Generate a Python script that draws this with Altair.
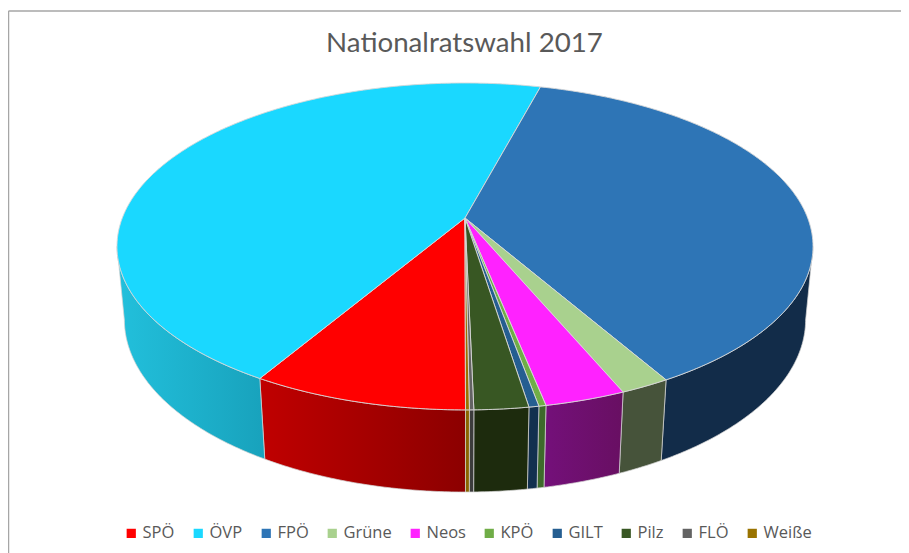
import math
import altair as alt
import pandas as pd

parties = ["SPÖ", "ÖVP", "FPÖ", "Grüne", "Neos", "KPÖ", "GILT", "Pilz", "FLÖ", "Weiße"]
shares = [8.52, 45.64, 37.56, 1.97, 3.19, 0.28, 0.39, 2.13, 0.17, 0.15]
top_colors = ["#ff0000", "#1ad8ff", "#2e75b6", "#a9d18e", "#ff22ff", "#70ad47", "#255e91", "#385723", "#636363", "#997300"]
wall_left = ["#c00000", "#22c0dc", "#122c49", "#46533a", "#74107a", "#3d6a2a", "#12304f", "#1d2b0d", "#3c3c3c", "#8a6500"]
wall_right = ["#8c0000", "#18a2bc", "#122c49", "#46533a", "#680f62", "#3d6a2a", "#12304f", "#1d2b0d", "#3c3c3c", "#8a6500"]

# projection of the tilted disc (picture geometry)
CX, CY = 465.0, 218.0
A, B, K = 342.7, 158.5, -0.174
G, H = 0.021, 73.6
START = -0.07
LIMIT = 80.0


def project(theta, depth):
    t = math.radians(theta)
    u, v = -math.sin(t), math.cos(t)
    w = 1 + K * v + (G if depth else 0)
    return CX + A * u / w, CY + (B * v + (H if depth else 0)) / w


def arc(t0, t1):
    n = max(2, int(abs(t1 - t0) / 0.5) + 1)
    return [t0 + (t1 - t0) * i / (n - 1) for i in range(n)]


top_rows, wall_rows = [], []
theta = START
for party, share in zip(parties, shares):
    t0 = theta
    t1 = theta + share * 3.6
    theta = t1
    pts = [(CX, CY)] + [project(t, 0) for t in arc(t0, t1)] + [(CX, CY)]
    for i, (x, y) in enumerate(pts):
        top_rows.append({"party": party, "i": i, "x": x, "y": y})
    # the part of the side wall that faces the viewer
    spans = []
    for a, b in [(t0, t1), (t0 - 360, t1 - 360)]:
        lo, hi = max(a, -LIMIT), min(b, LIMIT)
        if hi > lo:
            spans.append((lo, hi))
    for lo, hi in spans:
        ts = arc(lo, hi)
        poly = [project(t, 0) for t in ts] + [project(t, 1) for t in reversed(ts)]
        poly.append(poly[0])
        for i, (x, y) in enumerate(poly):
            wall_rows.append({"party": party, "i": i, "x": x, "y": y})

top_df = pd.DataFrame(top_rows)
wall_df = pd.DataFrame(wall_rows)

W, H_ = 893, 545
xs = alt.Scale(domain=[8, 901], range=[0, W], nice=False, zero=False)
ys = alt.Scale(domain=[8, 553], range=[0, H_], nice=False, zero=False)
X = alt.X("x:Q", scale=xs, axis=None)
Y = alt.Y("y:Q", scale=ys, axis=None)

layers = []
for p, cl, cr in zip(parties, wall_left, wall_right):
    grad = alt.Gradient(
        gradient="linear", x1=0, x2=1, y1=0, y2=0,
        stops=[alt.GradientStop(color=cl, offset=0), alt.GradientStop(color=cr, offset=1)],
    )
    layers.append(
        alt.Chart(wall_df[wall_df.party == p])
        .mark_line(fill=grad, stroke="#d4d4d4", strokeWidth=0.9, strokeOpacity=0.8)
        .encode(x=X, y=Y, order="i:Q")
    )

top = (
    alt.Chart(top_df)
    .mark_line(stroke="#d8d8d8", strokeWidth=0.9, strokeJoin="round", filled=True)
    .encode(
        x=X,
        y=Y,
        order="i:Q",
        fill=alt.Fill(
            "party:N",
            scale=alt.Scale(domain=parties, range=top_colors),
            sort=parties,
            legend=alt.Legend(
                title=None,
                orient="none",
                legendX=115,
                legendY=517,
                direction="horizontal",
                columns=10,
                columnPadding=15,
                symbolType="square",
                symbolSize=85,
                symbolStrokeWidth=0,
                labelFont="Open Sans",
                labelFontSize=16.5,
                labelColor="#595959",
                labelOffset=3,
            ),
        ),
    )
)
layers.append(top)

frame_top = alt.Chart(pd.DataFrame({"a": [0]})).mark_rule(color="#a6a6a6", strokeWidth=1.5).encode(
    x=alt.value(0.5), x2=alt.value(W), y=alt.value(3))
frame_left = alt.Chart(pd.DataFrame({"a": [0]})).mark_rule(color="#a6a6a6", strokeWidth=1.5).encode(
    x=alt.value(0.5), y=alt.value(3), y2=alt.value(H_))

chart = (
    alt.layer(frame_top, frame_left, *layers)
    .properties(
        width=W,
        height=H_,
        padding=0,
        autosize=alt.AutoSizeParams(type="none"),
        title=alt.TitleParams(
            "Nationalratswahl 2017",
            font="Lato",
            fontSize=27.7,
            fontWeight="normal",
            color="#595959",
            anchor="middle",
            frame="group",
            dx=10,
            dy=54,
            orient="top",
        ),
    )
    .configure_view(stroke=None)
)

chart.save("out.html", embed_options={"renderer": "svg", "actions": False})
